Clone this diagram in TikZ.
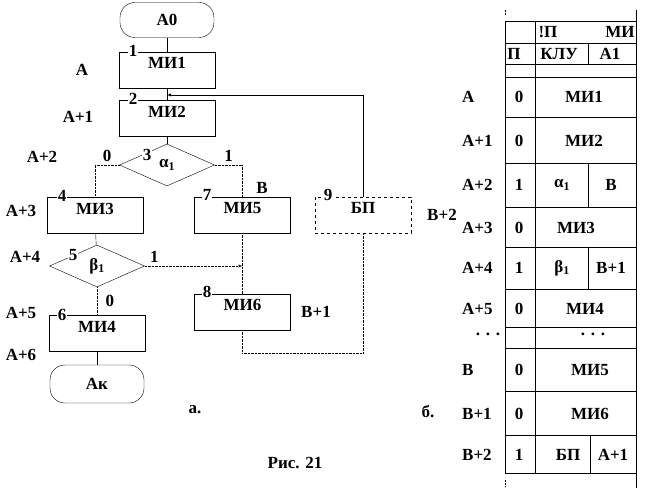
\documentclass[tikz,border=0pt]{standalone}
\usepackage{fontspec}
\setmainfont{Liberation Serif}
\usetikzlibrary{arrows, positioning, shapes.geometric}

\begin{document}
\begin{tikzpicture}[x=1pt, y=-1pt, font=\bfseries\fontsize{17}{19}\selectfont,
  mi/.style={draw, minimum width=96pt, minimum height=36pt, text height=11.5pt, text depth=14pt, inner sep=0pt},
  term/.style={draw, rounded corners=15pt, minimum width=94pt, minimum height=35pt},
  cond/.style={draw, diamond, minimum width=95pt, minimum height=42pt, inner sep=0pt},
  num/.style={fill=white, inner sep=1pt},
  dl/.style={densely dotted}]
\useasboundingbox (0,0) rectangle (648,489);

% flowchart
\node[term] (a0) at (167,20) {А0};
\node[mi] (mi1) at (167,70) {МИ1};
\node[mi] (mi2) at (167,118.5) {МИ2};
\node[cond] (alpha) at (167,165) {α\textsubscript{1}};
\node[mi] (mi3) at (95,215.5) {МИ3};
\node[mi] (mi5) at (242.5,215) {МИ5};
\node[mi, dashed] (bp) at (363,215) {БП};
\node[cond] (beta) at (97,266) {β\textsubscript{1}};
\node[mi] (mi6) at (242.5,312) {МИ6};
\node[mi] (mi4) at (97,333.5) {МИ4};
\node[term, minimum height=38pt] (ak) at (97,384) {Ак};
\coordinate (j) at (167,95);
\coordinate (lb) at (242.5,353);

\node[num] (n1) at (133,51) {1};
\node[num] (n2) at (133,99) {2};
\node[num] (n3) at (147,155) {3};
\node[num] (n4) at (62,196) {4};
\node[num] (n7) at (207,195) {7};
\node[num] (n9) at (328,195) {9};
\node[num] (n5) at (73,255) {5};
\node[num] (n8) at (207,292) {8};
\node[num] (n6) at (62,315) {6};

\draw (a0) -- (mi1);
\draw (mi1) -- (mi2);
\draw (mi2) -- (alpha);
\draw[dl] (alpha.west) -| node[pos=0.25, above] (y0) {0} (mi3.north);
\draw[dl] (alpha.east) -| node[pos=0.25, above] (y1) {1} (mi5.north);
\draw (mi3) -- (beta);
\draw[dl] (beta.south) -- node[right=5pt] (z0) {0} (mi4.north);
\draw[dl, -latex] (beta.east) -- node[pos=0.1, above] (z1) {1} (beta.east -| mi5.south);
\draw (mi4) -- (ak);
\draw[dl] (mi5) -- (mi6);
\draw[dl] (mi6.south) -- (lb) -| (bp.south);
\draw[-latex] (bp.north) |- (j);

\node (la) at (82,70) {А};
\node (la1) at (78,117) {А+1};
\node (la2) at (42,157) {А+2};
\node (la3) at (21,211) {А+3};
\node (la4) at (25,257) {А+4};
\node (la5) at (21,313) {А+5};
\node (la6) at (21,355) {А+6};
\node (lb0) at (262,188) {В};
\node (lb1) at (316,312) {В+1};
\node (lb2) at (442,215) {В+2};

\node (capa) at (195,410) {а.};
\node (capb) at (428,412) {б.};
\node (cap) at (295,463) {Рис. 21};

% table
\foreach \y in {21,43,64,77,117,163,207,247,289,327,348,391,435,473}
  \draw (505,\y) -- (636,\y);
\draw (505,21) -- (505,473);
\draw (535,21) -- (535,473);
\draw (636,10) -- (636,488);
\draw (588,43) -- (588,64);
\draw (588,163) -- (588,207);
\draw (588,247) -- (588,289);
\draw (590,435) -- (590,473);
\draw[dl] (505,10) -- (505,15);
\draw[dl] (505,480) -- (505,487);

\node (h1) at (548,32) {!П};
\node (h2) at (620,32) {МИ};
\node (h3) at (514,54) {П};
\node (h4) at (559,54) {КЛУ};
\node (h5) at (610,54) {А1};

\foreach \y/\adr/\bit [count=\i] in {97/А/0, 141/А+1/0, 185/А+2/1, 228/А+3/0, 268/А+4/1,
    309/А+5/0, 370/В/0, 414/В+1/0, 455/В+2/1} {
  \node[anchor=west, inner sep=0pt] (adr\i) at (462,\y) {\adr};
  \node (bit\i) at (519,\y) {\bit};
}
\node (c1) at (584,97) {МИ1};
\node (c2) at (584,141) {МИ2};
\node (c3) at (562,185) {α\textsubscript{1}};
\node (c3b) at (611,185) {В};
\node (c4) at (576,228) {МИ3};
\node (c5) at (562,268) {β\textsubscript{1}};
\node (c5b) at (611,268) {В+1};
\node (c6) at (585,309) {МИ4};
\node (d1) at (488,334) {. . .};
\node (d2) at (593,334) {. . .};
\node (c7) at (590,370) {МИ5};
\node (c8) at (590,414) {МИ6};
\node (c9) at (568,455) {БП};
\node (c9b) at (613,455) {А+1};
\end{tikzpicture}
\end{document}
